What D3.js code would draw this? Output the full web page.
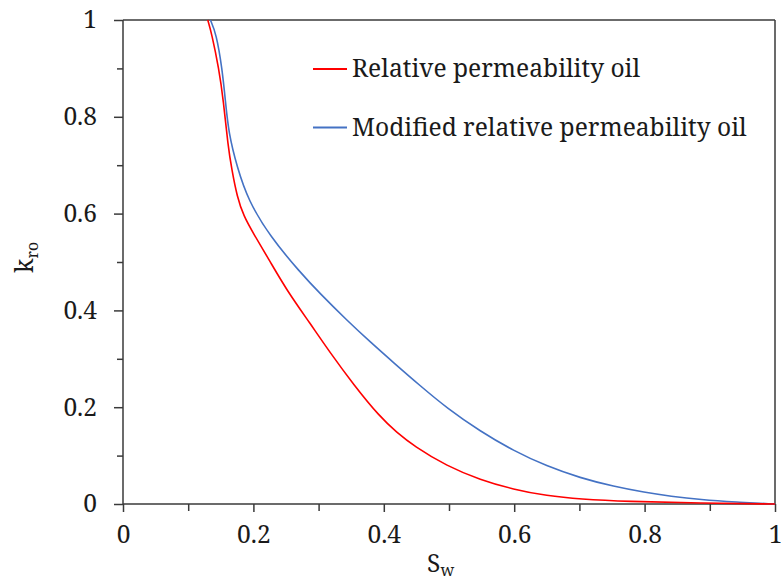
<!DOCTYPE html>
<html><head><meta charset="utf-8">
<script src="https://cdn.jsdelivr.net/npm/d3@7"></script>
<style>body{margin:0;background:#fff}svg{display:block}</style>
</head><body><svg id="c" width="781" height="585"></svg>
<script>
const xTicks = [0, 0.2, 0.4, 0.6, 0.8, 1];
const yTicks = [0, 0.2, 0.4, 0.6, 0.8, 1];
const minorTicks = [0.1, 0.3, 0.5, 0.7, 0.9];
const seriesNames = ["Relative permeability oil", "Modified relative permeability oil"];
const redSw  = [0.130,0.136,0.147,0.154,0.161,0.167,0.175,0.185,0.200,0.226,0.251,0.287,0.318,0.354,0.394,0.420,0.446,0.497,0.548,0.599,0.650,0.701,0.773,0.886,1.000];
const redKro = [1.000,0.972,0.900,0.834,0.740,0.690,0.635,0.595,0.559,0.500,0.442,0.373,0.312,0.246,0.180,0.148,0.120,0.078,0.050,0.030,0.017,0.010,0.005,0.002,0.000];
const blueSw  = [0.134,0.143,0.152,0.157,0.162,0.175,0.192,0.226,0.272,0.302,0.343,0.379,0.415,0.456,0.497,0.548,0.599,0.650,0.701,0.753,0.800,0.840,0.886,0.940,1.000];
const blueKro = [1.000,0.972,0.900,0.834,0.766,0.696,0.627,0.552,0.478,0.435,0.380,0.335,0.292,0.244,0.198,0.150,0.110,0.078,0.054,0.036,0.024,0.016,0.009,0.004,0.000];

const FONT = '"Noto Serif","DejaVu Serif",serif';
const svg = d3.select("#c");
const m = {l:123, t:20, r:775, b:504};
const x = d3.scaleLinear().domain([0,1]).range([m.l, m.r]);
const y = d3.scaleLinear().domain([0,1]).range([m.b, m.t]);
const axisColor = "#3a3a3a";
const textColor = "#1a1a1a";

const probe = svg.append("text").attr("font-family",FONT).attr("font-size",24).text(seriesNames[1]);
const fs = 24 * 395 / probe.node().getComputedTextLength();
probe.remove();

svg.append("line").attr("x1",m.l).attr("x2",m.r).attr("y1",m.t).attr("y2",m.t).attr("stroke",axisColor).attr("stroke-width",1.5);
svg.append("line").attr("x1",m.r).attr("x2",m.r).attr("y1",m.t).attr("y2",m.b).attr("stroke",axisColor).attr("stroke-width",1.5);

const gx = svg.append("g").attr("transform",`translate(0,${m.b})`)
  .call(d3.axisBottom(x).tickValues(xTicks).tickFormat(d3.format("~g")).tickSize(8).tickPadding(14));
svg.append("g").attr("transform",`translate(0,${m.b})`)
  .call(d3.axisBottom(x).tickValues(minorTicks).tickFormat("").tickSize(7))
  .call(g=>g.select(".domain").remove());
const gy = svg.append("g").attr("transform",`translate(${m.l},0)`)
  .call(d3.axisLeft(y).tickValues(yTicks).tickFormat(d3.format("~g")).tickSize(9).tickPadding(17));
svg.append("g").attr("transform",`translate(${m.l},0)`)
  .call(d3.axisLeft(y).tickValues(minorTicks).tickFormat("").tickSize(6))
  .call(g=>g.select(".domain").remove());
svg.selectAll(".domain, .tick line").attr("stroke",axisColor).attr("stroke-width",1.5);
svg.selectAll(".tick text").attr("font-size",fs).attr("font-family",FONT).attr("fill",textColor);
gx.select(".domain").attr("d",`M${m.l},0H${m.r}`);
gy.select(".domain").attr("d",`M0,${m.b}V${m.t}`);

const line = d3.line().x(d=>x(d[0])).y(d=>y(d[1])).curve(d3.curveBasis);
const red = redSw.map((s,i)=>[s,redKro[i]]);
const blue = blueSw.map((s,i)=>[s,blueKro[i]]);
svg.append("path").datum(blue).attr("d",line).attr("fill","none").attr("stroke","#4472C4").attr("stroke-width",1.6);
svg.append("path").datum(red).attr("d",line).attr("fill","none").attr("stroke","#FF0000").attr("stroke-width",1.6);

const colors = ["#FF0000","#4472C4"];
const ly = [69, 127.5];
seriesNames.forEach((n,i)=>{
  svg.append("line").attr("x1",313).attr("x2",347).attr("y1",ly[i]).attr("y2",ly[i]).attr("stroke",colors[i]).attr("stroke-width",1.8);
  svg.append("text").attr("x",352).attr("y",ly[i]+8).attr("font-size",fs).attr("font-family",FONT).attr("fill",textColor).text(n);
});

const xl = svg.append("text").attr("x",427).attr("y",572).attr("font-size",fs).attr("font-family",FONT).attr("fill",textColor);
xl.append("tspan").text("S");
xl.append("tspan").attr("font-size",fs*0.65).attr("dy",4).text("w");
const yl = svg.append("text").attr("transform","translate(33,273) rotate(-90)").attr("font-size",fs).attr("font-family",FONT).attr("fill",textColor);
yl.append("tspan").text("k");
yl.append("tspan").attr("font-size",fs*0.65).attr("dy",5).text("ro");
</script></body></html>
